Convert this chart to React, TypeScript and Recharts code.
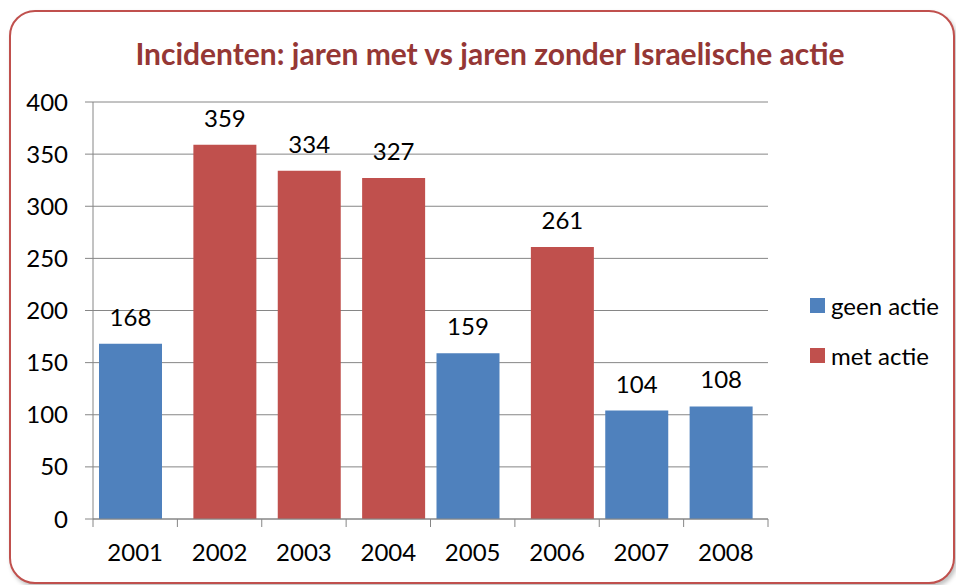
import React from 'react'
import { BarChart, Bar, XAxis, YAxis, CartesianGrid, LabelList } from 'recharts'

// Incidents per year, split by whether there was Israeli action
const years = ['2001', '2002', '2003', '2004', '2005', '2006', '2007', '2008']
const geenActie = [168, null, null, null, 159, null, 104, 108]
const metActie = [null, 359, 334, 327, null, 261, null, null]
const yTicks = [0, 50, 100, 150, 200, 250, 300, 350, 400]

const data = years.map((year, i) => ({ year, geen: geenActie[i], met: metActie[i] }))

const W = 956
const H = 585
const X_AXIS_H = 30
const MARGIN = { top: 102, right: 188, bottom: 66 - X_AXIS_H, left: 0 }
const Y_AXIS_W = 93
const FONT = 'Lato, "Open Sans", sans-serif'
const FS = 24
const BLUE = '#4F81BD'
const RED = '#C0504D'
const GRID = '#868686'

const plotW = W - MARGIN.right - Y_AXIS_W
const band = plotW / years.length

const XTick = (props: any) => {
  const { x, y, payload, index } = props
  const last = index === years.length - 1
  return (
    <g>
      <line x1={x - band / 2} x2={x - band / 2} y1={y} y2={y + 8} stroke={GRID} />
      {last && <line x1={x + band / 2} x2={x + band / 2} y1={y} y2={y + 8} stroke={GRID} />}
      <text x={x} y={y + 42} textAnchor="middle" fontSize={FS} fontFamily={FONT} fill="#000">
        {payload.value}
      </text>
    </g>
  )
}

const TopLabel = (props: any) => {
  const { x, y, width, value } = props
  if (value === null || value === undefined) return null
  return (
    <text x={x + width / 2} y={y - 18} textAnchor="middle" fontSize={FS} fontFamily={FONT} fill="#000">
      {value}
    </text>
  )
}

export default function App() {
  return (
    <div style={{ position: 'absolute', left: 0, top: 0, width: W, height: H, background: '#fff', fontFamily: FONT }}>
      <div
        style={{
          position: 'absolute',
          left: 9,
          top: 10,
          width: 942,
          height: 570,
          border: `2px solid ${RED}`,
          borderRadius: 26,
          boxShadow: '2px 3px 4px rgba(0,0,0,0.25)',
          background: '#fff',
        }}
      />
      <div
        style={{
          position: 'absolute',
          left: 0,
          top: 34,
          width: 980,
          textAlign: 'center',
          fontSize: 30,
          fontWeight: 700,
          color: '#953735',
          lineHeight: '38px',
        }}
      >
        Incidenten: jaren met vs jaren zonder Israelische actie
      </div>
      <div style={{ position: 'absolute', left: 0, top: 0 }}>
        <BarChart width={W} height={H} data={data} margin={MARGIN} barSize={63} barGap={-53}>
          <CartesianGrid vertical={false} stroke={GRID} />
          <XAxis
            dataKey="year"
            height={X_AXIS_H}
            axisLine={{ stroke: GRID }}
            tickLine={false}
            tickSize={0}
            tickMargin={0}
            tick={<XTick />}
            interval={0}
          />
          <YAxis
            width={Y_AXIS_W}
            domain={[0, 400]}
            ticks={yTicks}
            interval={0}
            axisLine={{ stroke: GRID }}
            tickLine={{ stroke: GRID }}
            tickSize={8}
            tickMargin={17}
            tick={{ fontSize: FS, fontFamily: FONT, fill: '#000' }}
          />
          <Bar dataKey="geen" fill={BLUE} isAnimationActive={false}>
            <LabelList dataKey="geen" content={<TopLabel />} />
          </Bar>
          <Bar dataKey="met" fill={RED} isAnimationActive={false}>
            <LabelList dataKey="met" content={<TopLabel />} />
          </Bar>
        </BarChart>
      </div>
      <div style={{ position: 'absolute', left: 810, top: 288, fontSize: FS, color: '#000' }}>
        {[
          { label: 'geen actie', color: BLUE },
          { label: 'met actie', color: RED },
        ].map((item) => (
          <div key={item.label} style={{ display: 'flex', alignItems: 'center', height: 34, marginBottom: 16 }}>
            <span style={{ display: 'inline-block', width: 15, height: 15, background: item.color, marginRight: 6 }} />
            <span>{item.label}</span>
          </div>
        ))}
      </div>
    </div>
  )
}
